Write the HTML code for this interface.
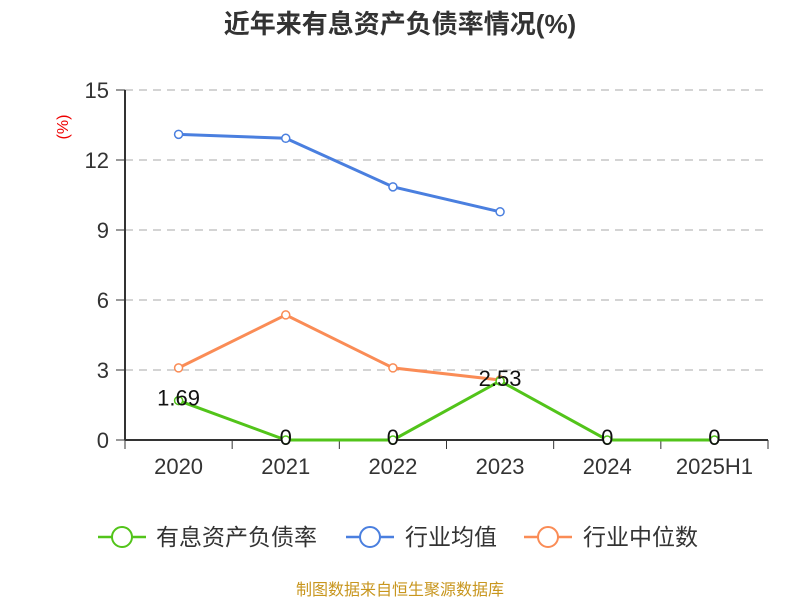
<!DOCTYPE html>
<html><head><meta charset="utf-8"><style>
body{margin:0;background:#fff;}
svg text{font-family:"Liberation Sans","Noto Sans CJK SC",sans-serif;}
</style></head><body>
<svg id="chart" width="800" height="600">
<text x="400" y="33" text-anchor="middle" font-size="26" font-weight="bold" fill="#333">近年来有息资产负债率情况(%)</text>
<text transform="translate(68,127) rotate(-90)" text-anchor="middle" font-size="16" fill="#e00">(%)</text>
<g id="grid"></g><g id="axes"></g><g id="series"></g>
<g>
 <g><line x1="98" y1="537" x2="146" y2="537" stroke="#52c41a" stroke-width="2.5"/><circle cx="122" cy="537" r="10" fill="#fff" stroke="#52c41a" stroke-width="2"/><text x="156" y="545" font-size="23" fill="#333">有息资产负债率</text></g>
 <g><line x1="346" y1="537" x2="394" y2="537" stroke="#4a7fdf" stroke-width="2.5"/><circle cx="370" cy="537" r="10" fill="#fff" stroke="#4a7fdf" stroke-width="2"/><text x="405" y="545" font-size="23" fill="#333">行业均值</text></g>
 <g><line x1="524" y1="537" x2="572" y2="537" stroke="#fa8c56" stroke-width="2.5"/><circle cx="548" cy="537" r="10" fill="#fff" stroke="#fa8c56" stroke-width="2"/><text x="583" y="545" font-size="23" fill="#333">行业中位数</text></g>
</g>
<text x="400" y="595" text-anchor="middle" font-size="16" fill="#c8961e">制图数据来自恒生聚源数据库</text>
</svg>
<script>
const categories=["2020","2021","2022","2023","2024","2025H1"];
const mainValues=[1.69,0,0,2.53,0,0];
const meanValues=[13.1,12.93,10.85,9.78];
const medianValues=[3.09,5.36,3.09,2.57];
const yTicks=[0,3,6,9,12,15];
const NS="http://www.w3.org/2000/svg";
const x0=125,x1=768,yTop=90,yBot=440,yMax=15;
const band=(x1-x0)/categories.length;
const xs=i=>x0+band*(i+0.5);
const ys=v=>yBot-(v/yMax)*(yBot-yTop);
function mk(tag,attrs,parent,txt){const e=document.createElementNS(NS,tag);for(const k in attrs)e.setAttribute(k,attrs[k]);if(txt!==undefined)e.textContent=txt;document.getElementById(parent).appendChild(e);return e;}
yTicks.forEach(t=>{
 if(t>0){const g=mk('line',{x1:x0,x2:x1,y1:ys(t),y2:ys(t),stroke:'#bbb','stroke-dasharray':'8,6','stroke-width':1.3},'grid');
 
 }
 const tk=mk('line',{x1:x0-9,x2:x0,y1:ys(t),y2:ys(t),stroke:'#333'},'axes');
 
 
 const l=mk('text',{x:x0-16,y:ys(t)+8,'text-anchor':'end','font-size':'22',fill:'#333'},'axes',t);
 
 
});
const ya=mk('line',{x1:x0,x2:x0,y1:yTop,y2:yBot,stroke:'#333','stroke-width':2},'axes');


const xa=mk('line',{x1:x0,x2:x1,y1:yBot,y2:yBot,stroke:'#333','stroke-width':2},'axes');


for(let i=0;i<=categories.length;i++){const t=mk('line',{x1:x0+band*i,x2:x0+band*i,y1:yBot,y2:yBot+9,stroke:'#333'},'axes');
 
 }
categories.forEach((c,i)=>{const t=mk('text',{x:xs(i),y:474,'text-anchor':'middle','font-size':'22',fill:'#333'},'axes',c);
 
 });
function series(vals,color,name,labels){
 const pts=vals.map((v,i)=>xs(i)+','+ys(v)).join(' ');
 const pl=mk('polyline',{points:pts,fill:'none',stroke:color,'stroke-width':3},'series');
 
 
 vals.forEach((v,i)=>{
  const c=mk('circle',{cx:xs(i),cy:ys(v),r:4,fill:'#fff',stroke:color,'stroke-width':1.5},'series');
  
  
  if(labels){const t=mk('text',{x:xs(i),y:ys(v)+5,'text-anchor':'middle','font-size':'22',fill:'#111'},'series',v);
   
   }
 });
}
series(meanValues,'#4a7fdf','industry-mean',false);
series(medianValues,'#fa8c56','industry-median',false);
series(mainValues,'#52c41a','interest-bearing-ratio',true);
</script>
</body></html>
